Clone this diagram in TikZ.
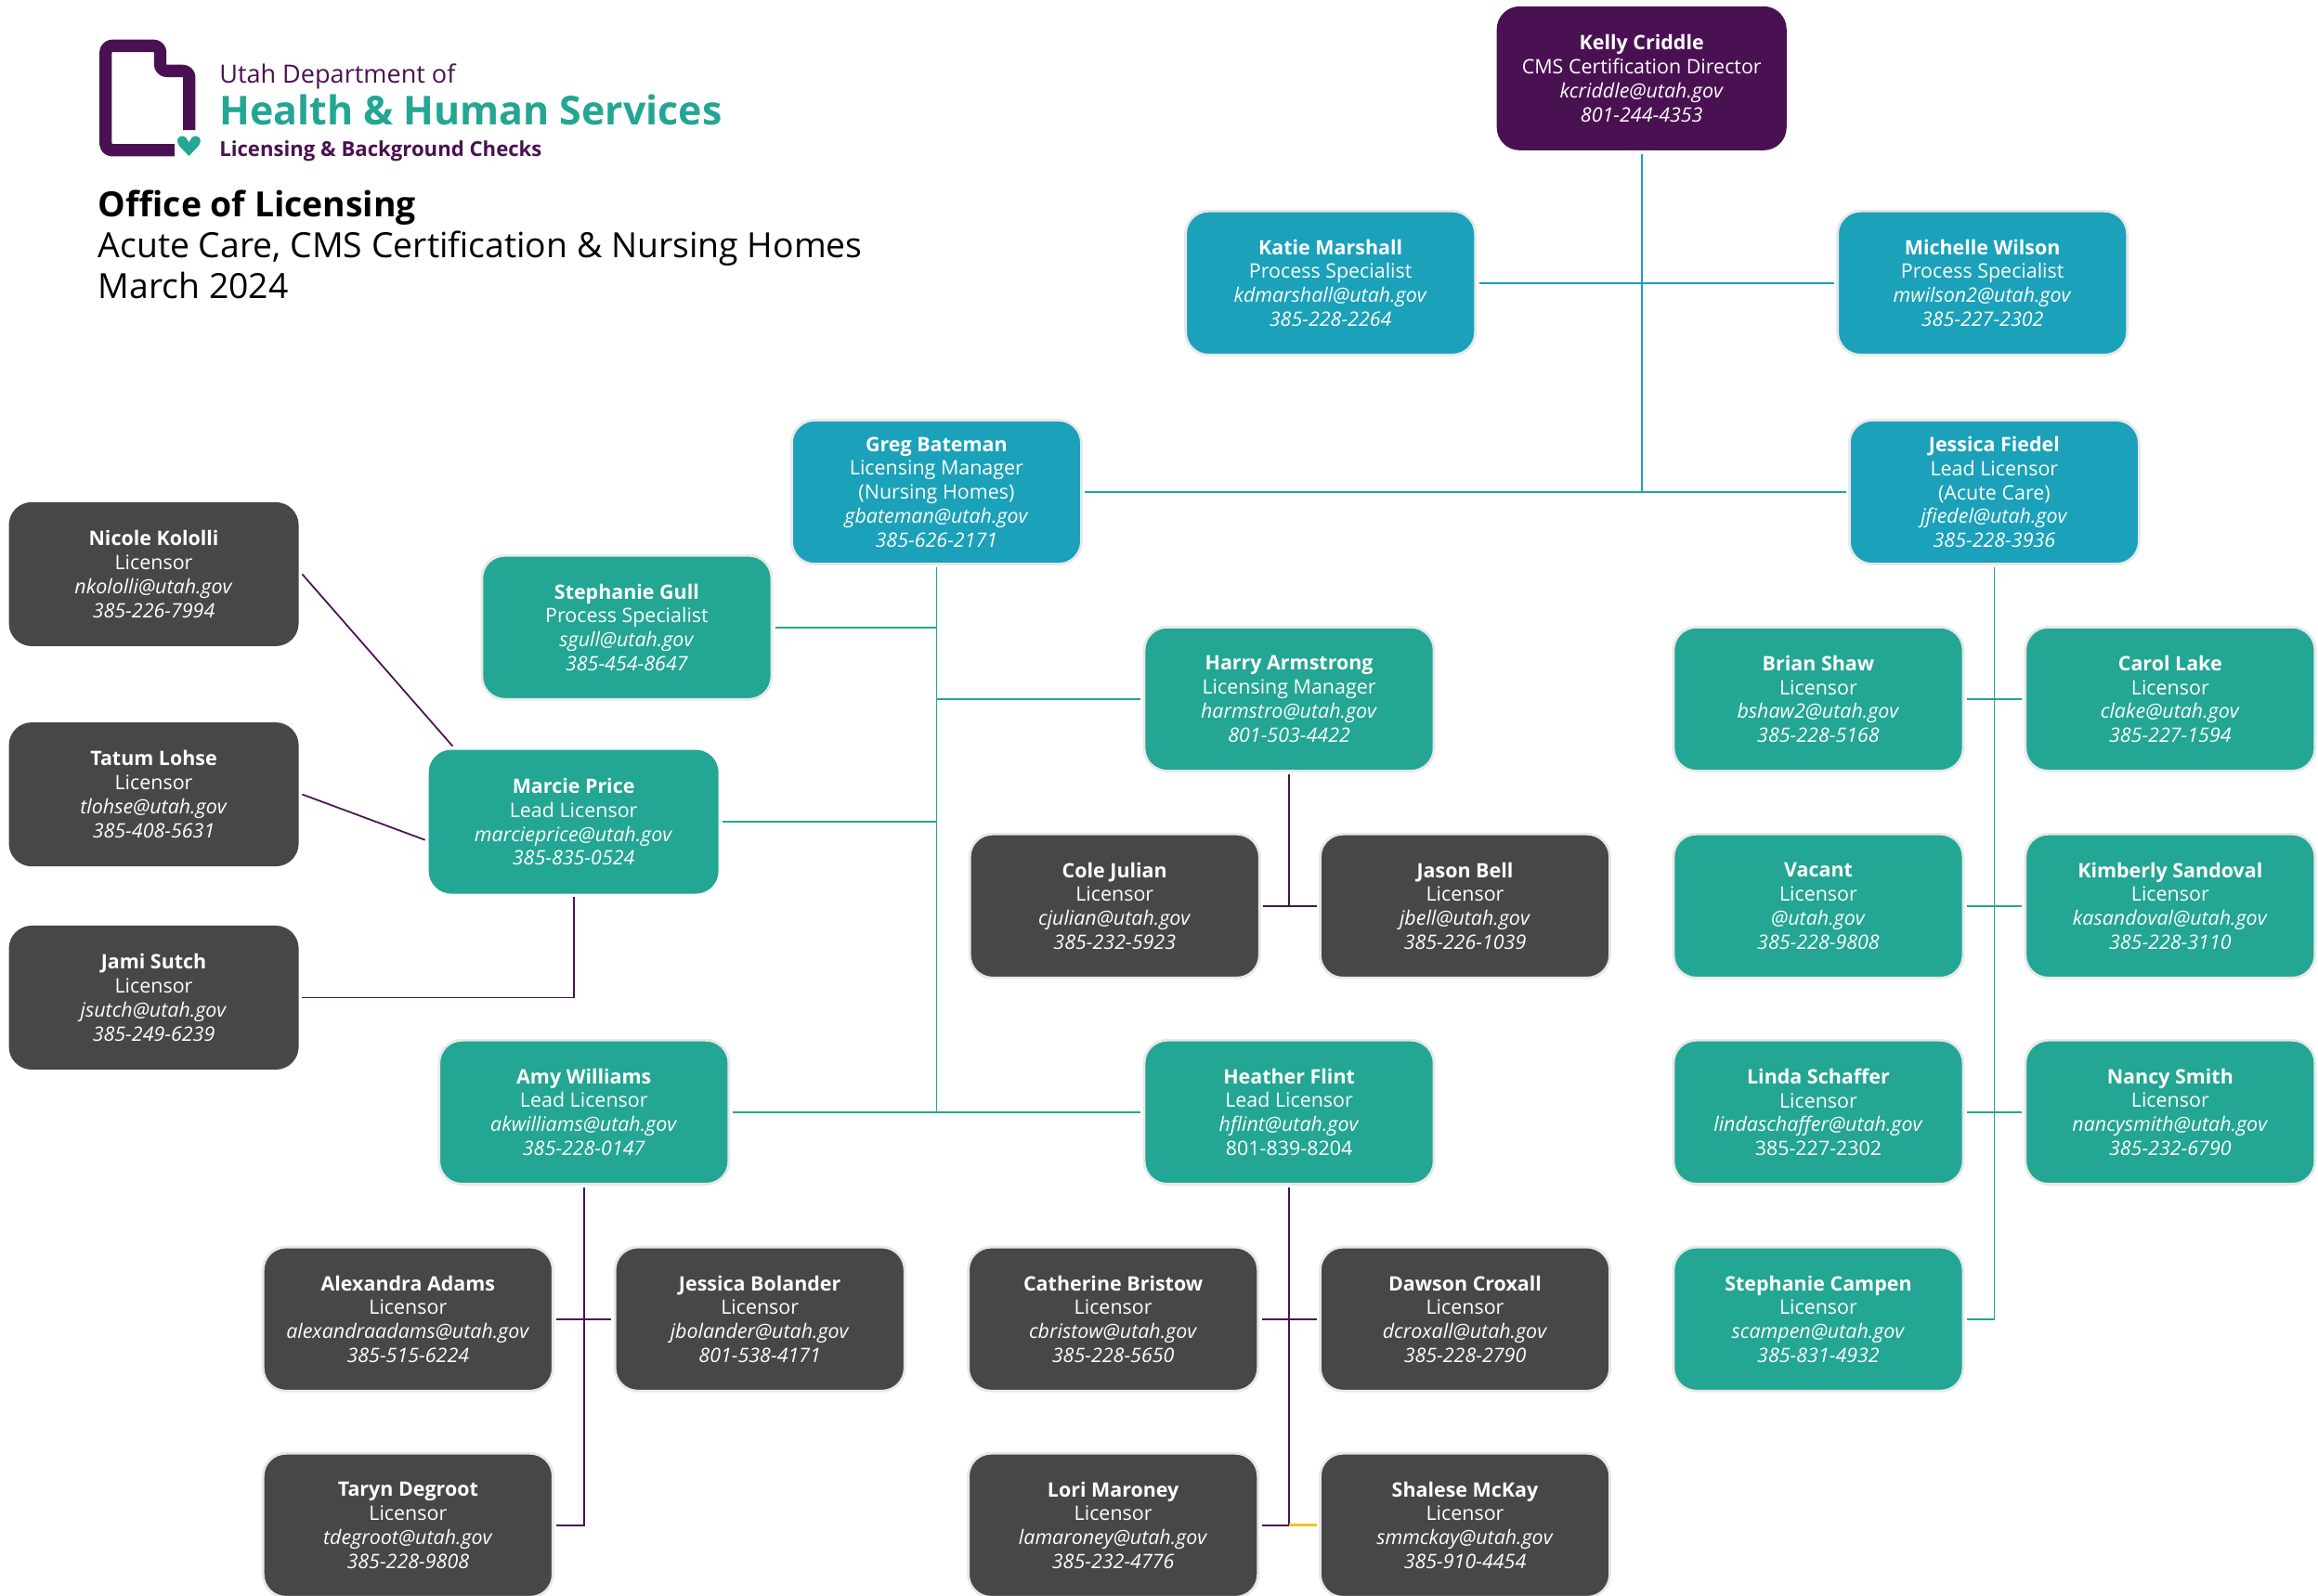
\documentclass[tikz,border=0pt]{standalone}
\usepackage{fontspec}
\setmainfont{Open Sans}
\usetikzlibrary{arrows.meta}
\definecolor{dhhspurple}{RGB}{74,17,82}
\definecolor{dhhsblue}{RGB}{27,161,185}
\definecolor{dhhsgreen}{RGB}{35,166,147}
\definecolor{dhhsgray}{RGB}{71,71,71}
\definecolor{dhhsgold}{RGB}{250,190,30}
\newcommand{\person}[4]{\textbf{#1}\\#2\\\textit{#3}\\\textit{#4}}
\tikzset{
  card/.style={rounded corners=7pt, minimum width=3.12cm, minimum height=1.55cm, inner sep=0pt, outer sep=1.1pt,
    align=center, text=white, font=\fontsize{6.1}{7.35}\selectfont, line width=0.8pt, draw=black!9},
  bluecard/.style={card, fill=dhhsblue},
  greencard/.style={card, fill=dhhsgreen},
  graycard/.style={card, fill=dhhsgray},
  chief/.style={card, fill=dhhspurple, draw=none},
  bluelink/.style={draw=dhhsblue, line width=0.5pt},
  greenlink/.style={draw=dhhsgreen, line width=0.5pt},
  purplelink/.style={draw=dhhspurple, line width=0.5pt}
}
\begin{document}
\begin{tikzpicture}[x=0.015918cm,y=-0.015918cm]
    \useasboundingbox (0,0) rectangle (1568,1079.3);
    % logo
    \draw[dhhspurple,line width=3.8pt,rounded corners=2,line join=round]
      (128,88) -- (128,48) -- (108.4,48) -- (108.4,31) -- (71.5,31) -- (71.5,101.6) -- (118,101.6);
    \fill[dhhsgreen,draw=white,line width=1pt] (127.8,107.5) .. controls (124,102.5) and (118.8,99.5) .. (118.8,95.5)
      .. controls (118.8,90) and (126,89.5) .. (127.8,94) .. controls (129.6,89.5) and (136.8,90) .. (136.8,95.5)
      .. controls (136.8,99.5) and (131.6,102.5) .. (127.8,107.5);
    \node[anchor=west,inner sep=0pt,text=dhhspurple,font=\fontsize{7.7}{9}\selectfont] (dept) at (148,51.5) {Utah Department of};
    \node[anchor=west,inner sep=0pt,text=dhhsgreen,font=\fontsize{12.2}{14}\selectfont\bfseries] (hhs) at (148,74.5) {Health \& Human Services};
    \node[anchor=west,inner sep=0pt,text=dhhspurple,font=\fontsize{6.3}{8}\selectfont\bfseries] (lbc) at (148,102.5) {Licensing \& Background Checks};
    \node[anchor=north west,inner sep=0pt,align=left,font=\fontsize{10.63}{12.65}\selectfont] (title) at (66,128)
      {\textbf{Office of Licensing}\\Acute Care, CMS Certification \& Nursing Homes\\March 2024};
    % cards
    \node[chief] (kelly) at (1110.5,53) {\person{Kelly Criddle}{CMS Certification Director}{kcriddle@utah.gov}{801-244-4353}};
    \node[bluecard] (katie) at (900,191.5) {\person{Katie Marshall}{Process Specialist}{kdmarshall@utah.gov}{385-228-2264}};
    \node[bluecard] (michelle) at (1341,191.5) {\person{Michelle Wilson}{Process Specialist}{mwilson2@utah.gov}{385-227-2302}};
    \node[bluecard] (greg) at (633.5,333) {\textbf{Greg Bateman}\\Licensing Manager\\(Nursing Homes)\\\textit{gbateman@utah.gov}\\\textit{385-626-2171}};
    \node[bluecard] (fiedel) at (1349,333) {\textbf{Jessica Fiedel}\\Lead Licensor\\(Acute Care)\\\textit{jfiedel@utah.gov}\\\textit{385-228-3936}};
    \node[graycard,draw=none] (nicole) at (104,388.5) {\person{Nicole Kololli}{Licensor}{nkololli@utah.gov}{385-226-7994}};
    \node[graycard,draw=none] (tatum) at (104,537.5) {\person{Tatum Lohse}{Licensor}{tlohse@utah.gov}{385-408-5631}};
    \node[graycard,draw=none] (jami) at (104,675) {\person{Jami Sutch}{Licensor}{jsutch@utah.gov}{385-249-6239}};
    \node[greencard] (gull) at (424,424.5) {\person{Stephanie Gull}{Process Specialist}{sgull@utah.gov}{385-454-8647}};
    \node[greencard] (harry) at (872,473) {\person{Harry Armstrong}{Licensing Manager}{harmstro@utah.gov}{801-503-4422}};
    \node[greencard] (brian) at (1230,473) {\person{Brian Shaw}{Licensor}{bshaw2@utah.gov}{385-228-5168}};
    \node[greencard] (carol) at (1468,473) {\person{Carol Lake}{Licensor}{clake@utah.gov}{385-227-1594}};
    \node[greencard,draw=none] (marcie) at (388,556) {\person{Marcie Price}{Lead Licensor}{marcieprice@utah.gov}{385-835-0524}};
    \node[graycard] (cole) at (754,613) {\person{Cole Julian}{Licensor}{cjulian@utah.gov}{385-232-5923}};
    \node[graycard] (jason) at (991,613) {\person{Jason Bell}{Licensor}{jbell@utah.gov}{385-226-1039}};
    \node[greencard] (vacant) at (1230,613) {\person{Vacant}{Licensor}{@utah.gov}{385-228-9808}};
    \node[greencard] (kimberly) at (1468,613) {\person{Kimberly Sandoval}{Licensor}{kasandoval@utah.gov}{385-228-3110}};
    \node[greencard] (amy) at (395,752.5) {\person{Amy Williams}{Lead Licensor}{akwilliams@utah.gov}{385-228-0147}};
    \node[greencard] (heather) at (872,752.5) {\textbf{Heather Flint}\\Lead Licensor\\\textit{hflint@utah.gov}\\801-839-8204};
    \node[greencard] (linda) at (1230,752.5) {\textbf{Linda Schaffer}\\Licensor\\\textit{lindaschaffer@utah.gov}\\385-227-2302};
    \node[greencard] (nancy) at (1468,752.5) {\person{Nancy Smith}{Licensor}{nancysmith@utah.gov}{385-232-6790}};
    \node[graycard] (alexandra) at (276,892.5) {\person{Alexandra Adams}{Licensor}{alexandraadams@utah.gov}{385-515-6224}};
    \node[graycard] (bolander) at (514,892.5) {\textbf{Jessica Bolander}\\Licensor\\\textit{jbolander@utah.gov}\\\textit{801-538-4171}};
    \node[graycard] (catherine) at (753,892.5) {\person{Catherine Bristow}{Licensor}{cbristow@utah.gov}{385-228-5650}};
    \node[graycard] (dawson) at (991,892.5) {\person{Dawson Croxall}{Licensor}{dcroxall@utah.gov}{385-228-2790}};
    \node[greencard] (campen) at (1230,892.5) {\person{Stephanie Campen}{Licensor}{scampen@utah.gov}{385-831-4932}};
    \node[graycard] (taryn) at (276,1032) {\person{Taryn Degroot}{Licensor}{tdegroot@utah.gov}{385-228-9808}};
    \node[graycard] (lori) at (753,1032) {\person{Lori Maroney}{Licensor}{lamaroney@utah.gov}{385-232-4776}};
    \node[graycard] (shalese) at (991,1032) {\person{Shalese McKay}{Licensor}{smmckay@utah.gov}{385-910-4454}};
    % links
    \draw[bluelink] (kelly.south) -- (kelly.south |- greg.east);
    \draw[bluelink] (katie.east) -- (michelle.west);
    \draw[greenlink] (greg.east) -- (fiedel.west);
    \draw[greenlink] (greg.south) |- (amy.east);
    \draw[greenlink] (amy.east) -- (heather.west);
    \draw[greenlink] (gull.east) -| (greg.south);
    \draw[greenlink] (harry.west) -| (greg.south);
    \draw[greenlink] (marcie.east) -| (greg.south);
    \draw[greenlink] (fiedel.south) |- (campen.east);
    \draw[greenlink] (brian.east) -- (carol.west);
    \draw[greenlink] (vacant.east) -- (kimberly.west);
    \draw[greenlink] (linda.east) -- (nancy.west);
    \draw[purplelink] (harry.south) -- (harry.south |- cole.east);
    \draw[purplelink] (cole.east) -- (jason.west);
    \draw[purplelink] (nicole.east) -- (marcie.148);
    \draw[purplelink] (tatum.east) -- (marcie.187);
    \draw[purplelink] (jami.east) -| (marcie.south);
    \draw[purplelink] (amy.south) |- (taryn.east);
    \draw[purplelink] (alexandra.east) -- (bolander.west);
    \draw[purplelink] (heather.south) -- (heather.south |- lori.east);
    \draw[purplelink] (catherine.east) -- (dawson.west);
    \draw[purplelink] (lori.east) -- (lori.east -| heather.south);
    \draw[dhhsgold,line width=0.8pt] (heather.south |- shalese.west) -- (shalese.west);
\end{tikzpicture}
\end{document}
